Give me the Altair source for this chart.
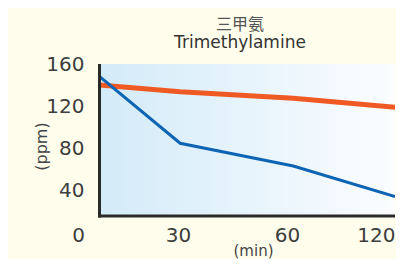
import altair as alt
import pandas as pd

# Data
minutes = [6.5, 30.6, 63.8, 125.5]
dispersed = [148.4, 85.2, 63.6, 34.5]      # blue line
control = [140.5, 134.2, 127.9, 119.4]     # orange line
x_ticks = [0, 30, 60, 120]
y_ticks = [40, 80, 120, 160]

W, H = 296, 152
FONT = "DejaVu Sans"

df = pd.DataFrame({
    "min": minutes * 2,
    "ppm": control + dispersed,
    "series": ["control"] * 4 + ["treated"] * 4,
})
one = pd.DataFrame({"k": [0]})

x_scale = alt.Scale(domain=x_ticks, range=[-21, 79, 188, 287], nice=False, zero=False)
y_scale = alt.Scale(domain=[0, 160], range=[169, 0.5], nice=False, zero=False)

x_axis = alt.Axis(values=x_ticks, title="(min)", grid=False, domain=False, ticks=False,
                  tickSize=0, labelPadding=9, labelFont=FONT, labelFontSize=20,
                  labelColor="#3d3d3d", labelFlush=False, labelOverlap=False,
                  labelAlign={"condition": {"test": "datum.value == 120", "value": "right"},
                              "value": "center"},
                  labelOffset={"condition": {"test": "datum.value == 120", "value": 9},
                               "value": 0},
                  titleFont=FONT, titleFontSize=15, titleFontWeight="normal",
                  titleColor="#444444", titleX=154, titleY=34, titleBaseline="middle",
                  titleAlign="center")
y_axis = alt.Axis(values=y_ticks, title="(ppm)", grid=False, domain=False, ticks=False,
                  tickSize=0, labelPadding=15, labelFont=FONT, labelFontSize=20,
                  labelColor="#3d3d3d", labelFlush=False, labelOverlap=False,
                  titleFont=FONT, titleFontSize=16, titleFontWeight="normal",
                  titleColor="#444444", titleX=-58, titleY=82, titleAngle=270,
                  titleBaseline="middle", titleAlign="center")

bg = alt.Chart(one).mark_rect(
    color=alt.LinearGradient(
        gradient="linear", x1=0, x2=1, y1=0, y2=0,
        stops=[alt.GradientStop(offset=0, color="#d3ebf8"),
               alt.GradientStop(offset=1, color="#fbfdff")],
    )
).encode(x=alt.value(0), x2=alt.value(W), y=alt.value(0), y2=alt.value(H))

base = alt.Chart(df).encode(
    x=alt.X("min:Q", scale=x_scale, axis=x_axis),
    y=alt.Y("ppm:Q", scale=y_scale, axis=y_axis),
)
orange = base.transform_filter(alt.datum.series == "control").mark_line(
    color="#ef5a24", strokeWidth=5, strokeCap="butt", clip=True)
blue = base.transform_filter(alt.datum.series == "treated").mark_line(
    color="#0d64b3", strokeWidth=3, strokeCap="butt", clip=True)

left_line = alt.Chart(one).mark_rule(color="#2a2a2a", strokeWidth=3).encode(
    x=alt.value(0.5), y=alt.value(0), y2=alt.value(H + 1.5))
bottom_line = alt.Chart(one).mark_rule(color="#2a2a2a", strokeWidth=3).encode(
    x=alt.value(-1), x2=alt.value(W), y=alt.value(H))

chart = alt.layer(bg, orange, blue, left_line, bottom_line).properties(
    width=W, height=H,
    background="#fffdec",
    padding={"left": 91, "top": 56, "right": 1, "bottom": 43},
    autosize=alt.AutoSizeParams(type="none"),
    title=alt.TitleParams(
        text="三甲氨", subtitle="Trimethylamine",
        font="Noto Sans CJK SC", fontSize=16, fontWeight="normal", color="#555555",
        subtitleFont=FONT, subtitleFontSize=17, subtitleColor="#333333",
        subtitlePadding=2, anchor="middle", frame="group", dx=-7, offset=4,
    ),
).configure_view(stroke=None)

chart.save("out.html", embed_options={"renderer": "svg", "actions": False})
